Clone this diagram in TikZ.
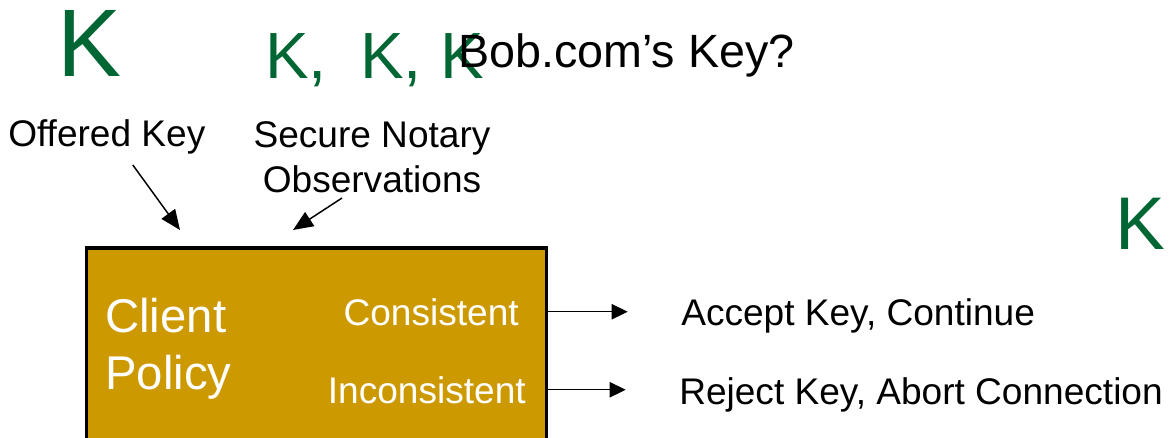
\documentclass[tikz,border=0pt]{standalone}
\usepackage{fontspec}
\setmainfont{Liberation Sans}
\usetikzlibrary{arrows.meta}
\definecolor{keygreen}{HTML}{006633}
\definecolor{policygold}{HTML}{CC9900}
\tikzset{
  keyglyph/.style={text=keygreen, inner sep=0pt, anchor=base west},
  plaintext/.style={inner sep=0pt, font=\fontsize{27.8}{33.75}\selectfont},
  boxtext/.style={plaintext, text=white},
  policybox/.style={draw, line width=2.6pt, fill=policygold, inner sep=0pt},
  pointer/.style={-{Triangle[length=15pt,width=12.5pt]}, line width=1.1pt},
  verdict/.style={-{Triangle[length=12pt,width=11.5pt]}, line width=1.1pt},
}

\begin{document}
\begin{tikzpicture}[x=0.75pt, y=-0.75pt]
    \useasboundingbox (0,0) rectangle (1169,438);
    % keys seen by the client and by the notaries
    \node[keyglyph, font=\fontsize{72}{72}\selectfont] (offeredK) at (57,77) {K};
    \node[keyglyph, font=\fontsize{49}{49}\selectfont] (notaryK1) at (265,79) {K,};
    \node[keyglyph, font=\fontsize{49}{49}\selectfont] (notaryK2) at (360,79) {K,};
    \node[keyglyph, font=\fontsize{49}{49}\selectfont] (notaryK3) at (440,79) {K};
    \node[plaintext, anchor=base west, font=\fontsize{35}{35}\selectfont] (question) at (458,68) {Bob.com’s Key?};
    \node[keyglyph, font=\fontsize{56}{56}\selectfont] (cachedK) at (1115,249) {K};

    % inputs to the policy
    \node[plaintext, anchor=base west] (offered) at (8,147) {Offered Key};
    \node[plaintext, anchor=south, align=center] (notary) at (372,193) {Secure Notary\\Observations};
    \coordinate (offeredtip) at (180,230);
    \coordinate (notarytip) at (293,230);
    \draw[pointer] ([shift={(26,18)}]offered.base) -- (offeredtip);
    \draw[pointer] ([shift={(-30,5)}]notary.south) -- (notarytip);

    % the policy box
    \node[policybox, minimum width=345pt, minimum height=159pt] (policy) at (316.5,354) {};
    \node[boxtext, anchor=south west, align=left, font=\fontsize{35.5}{42.75}\selectfont] (client) at (105,400) {Client\\Policy};
    \node[boxtext, anchor=base east] (cons) at (519,325) {Consistent};
    \node[boxtext, anchor=base east] (incons) at (526,403) {Inconsistent};

    % outcomes
    \node[plaintext, anchor=base west] (accept) at (681,325) {Accept Key, Continue};
    \node[plaintext, anchor=base west] (reject) at (679,404) {Reject Key, Abort Connection};
    \draw[verdict, shorten >=40pt] (policy.east |- cons.west) -- (accept.west |- cons.west);
    \draw[verdict, shorten >=40pt] (policy.east |- incons.west) -- (reject.west |- incons.west);
\end{tikzpicture}
\end{document}
